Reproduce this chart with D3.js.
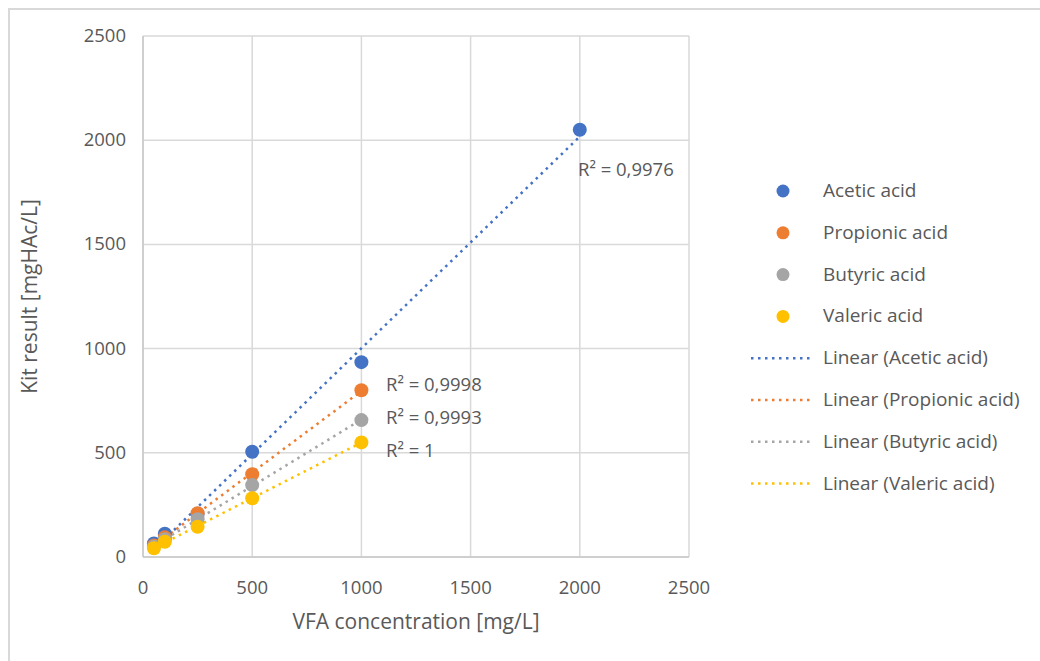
<!DOCTYPE html>
<html>
<head>
<meta charset="utf-8">
<script src="https://cdn.jsdelivr.net/npm/d3@7"></script>
<style>
  body { margin: 0; background: #fff; }
  text { font-family: "Segoe UI", "Open Sans", sans-serif; fill: #595959; }
</style>
</head>
<body>
<div id="chart"></div>
<script>
// concentrations used for each acid
const concAcetic = [50, 100, 250, 500, 1000, 2000];
const concOther = [50, 100, 250, 500, 1000];

// kit results
const acetic = [65, 112, 208, 505, 935, 2050];
const propionic = [55, 95, 210, 397, 800];
const butyric = [50, 85, 181, 345, 657];
const valeric = [42, 73, 145, 282, 550];

const seriesNames = ["Acetic acid", "Propionic acid", "Butyric acid", "Valeric acid"];
const seriesColors = ["#4472C4", "#ED7D31", "#A5A5A5", "#FFC000"];
const r2Labels = ["R\u00B2 = 0,9976", "R\u00B2 = 0,9998", "R\u00B2 = 0,9993", "R\u00B2 = 1"];

const xTicks = [0, 500, 1000, 1500, 2000, 2500];
const yTicks = [0, 500, 1000, 1500, 2000, 2500];

window.addEventListener("load", main);

function main(){
  const width = 1040, height = 661;
  const margin = {left: 143, right: 351, top: 36, bottom: 104};
  const fs = 19;

  const svg = d3.select("#chart").append("svg")
    .attr("width", width)
    .attr("height", height);

  // outer chart border (only left and top are in the frame)
  svg.append("path")
    .attr("d", "M9,661 V9 H1040")
    .attr("fill", "none")
    .attr("stroke", "#d9d9d9")
    .attr("stroke-width", 2);

  const x = d3.scaleLinear().domain([0, 2500]).range([margin.left, width - margin.right]);
  const y = d3.scaleLinear().domain([0, 2500]).range([height - margin.bottom, margin.top]);

  // grid
  svg.append("g").selectAll("line")
    .data(xTicks)
    .join("line")
    .attr("x1", d => x(d)).attr("x2", d => x(d))
    .attr("y1", y(0)).attr("y2", y(2500))
    .attr("stroke", "#d9d9d9").attr("stroke-width", 1.5);
  svg.append("g").selectAll("line")
    .data(yTicks)
    .join("line")
    .attr("x1", x(0)).attr("x2", x(2500))
    .attr("y1", d => y(d)).attr("y2", d => y(d))
    .attr("stroke", "#d9d9d9").attr("stroke-width", 1.5);

  // axes lines
  svg.append("line")
    .attr("x1", x(0)).attr("x2", x(2500)).attr("y1", y(0)).attr("y2", y(0))
    .attr("stroke", "#c8c8c8").attr("stroke-width", 1.5);
  svg.append("line")
    .attr("x1", x(0)).attr("x2", x(0)).attr("y1", y(0)).attr("y2", y(2500))
    .attr("stroke", "#c8c8c8").attr("stroke-width", 1.5);

  // tick labels
  svg.append("g").selectAll("text")
    .data(xTicks)
    .join("text")
    .attr("x", d => x(d))
    .attr("y", y(0) + 37)
    .attr("text-anchor", "middle")
    .attr("font-size", 18.5)
    .text(d => d);
  svg.append("g").selectAll("text")
    .data(yTicks)
    .join("text")
    .attr("x", x(0) - 17)
    .attr("y", d => y(d) + 6)
    .attr("text-anchor", "end")
    .attr("font-size", 18.5)
    .text(d => d);

  // axis titles
  svg.append("text")
    .attr("x", (x(0) + x(2500)) / 2)
    .attr("y", 629)
    .attr("text-anchor", "middle")
    .attr("font-size", 21)
    .text("VFA concentration [mg/L]");
  svg.append("text")
    .attr("transform", "translate(37," + ((y(0) + y(2500)) / 2) + ") rotate(-90)")
    .attr("text-anchor", "middle")
    .attr("font-size", 21)
    .text("Kit result [mgHAc/L]");

  const allSeries = [
    {xs: concAcetic, ys: acetic},
    {xs: concOther, ys: propionic},
    {xs: concOther, ys: butyric},
    {xs: concOther, ys: valeric}
  ];

  // linear trendlines, least squares over each series
  const plot = svg.append("g");
  allSeries.forEach((s, i) => {
    const n = s.xs.length;
    const mx = d3.mean(s.xs), my = d3.mean(s.ys);
    let sxy = 0, sxx = 0;
    for (let k = 0; k < n; k++) {
      sxy += (s.xs[k] - mx) * (s.ys[k] - my);
      sxx += (s.xs[k] - mx) * (s.xs[k] - mx);
    }
    const b = sxy / sxx, a = my - b * mx;
    const x0 = d3.min(s.xs), x1 = d3.max(s.xs);
    plot.append("line")
      .attr("x1", x(x0)).attr("y1", y(a + b * x0))
      .attr("x2", x(x1)).attr("y2", y(a + b * x1))
      .attr("stroke", seriesColors[i])
      .attr("stroke-width", 2.5)
      .attr("stroke-dasharray", "2.5 4.5");
  });

  // markers
  allSeries.forEach((s, i) => {
    plot.append("g").selectAll("circle")
      .data(s.xs.map((v, k) => [v, s.ys[k]]))
      .join("circle")
      .attr("cx", d => x(d[0]))
      .attr("cy", d => y(d[1]))
      .attr("r", 7)
      .attr("fill", seriesColors[i]);
  });

  // R² labels
  const r2Pos = [[578, 176], [386, 391], [386, 424], [386, 457]];
  svg.append("g").selectAll("text")
    .data(r2Labels)
    .join("text")
    .attr("x", (d, i) => r2Pos[i][0])
    .attr("y", (d, i) => r2Pos[i][1])
    .attr("font-size", 18.5)
    .text(d => d);

  // legend
  const leg = svg.append("g");
  const rowH = 41.8, top = 191;
  seriesNames.forEach((nm, i) => {
    const yy = top + i * rowH;
    leg.append("circle").attr("cx", 783).attr("cy", yy).attr("r", 6.5).attr("fill", seriesColors[i]);
    leg.append("text").attr("x", 823).attr("y", yy + 6).attr("font-size", fs).text(nm);
  });
  seriesNames.forEach((nm, i) => {
    const yy = top + (i + 4) * rowH;
    leg.append("line")
      .attr("x1", 751).attr("x2", 813).attr("y1", yy).attr("y2", yy)
      .attr("stroke", seriesColors[i]).attr("stroke-width", 2.5)
      .attr("stroke-dasharray", "2.5 4.5");
    leg.append("text").attr("x", 823).attr("y", yy + 6).attr("font-size", fs).text("Linear (" + nm + ")");
  });
}
</script>
</body>
</html>
